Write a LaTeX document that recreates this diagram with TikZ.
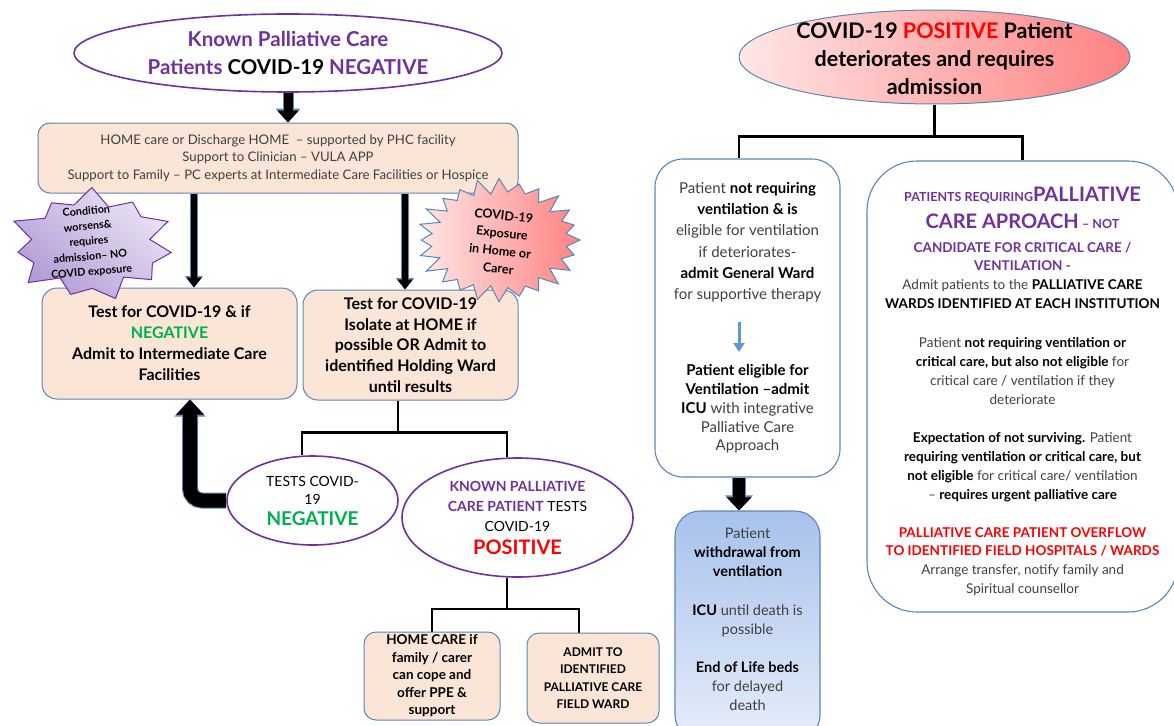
\documentclass[tikz,border=0pt]{standalone}
\usepackage{fontspec}
\setmainfont{Lato}
\usetikzlibrary{shapes.geometric,arrows.meta,calc}
\pgfdeclarelayer{paper}
\pgfdeclarelayer{back}
\pgfsetlayers{paper,back,main}

\definecolor{pcpurple}{HTML}{7030A0}
\definecolor{pcgreen}{HTML}{00B050}
\definecolor{pcred}{HTML}{FF0000}
\definecolor{peach}{HTML}{FBE5D6}
\definecolor{edgeblue}{HTML}{5B86B6}
\definecolor{txtgray}{HTML}{404040}
\definecolor{arrowblue}{HTML}{5B9BD5}
\definecolor{pinklite}{HTML}{FFE6E6}
\definecolor{pinkdeep}{HTML}{FF8282}
\definecolor{skytop}{HTML}{A8C2EC}
\definecolor{skybottom}{HTML}{E6EDF9}
\definecolor{lilaclite}{HTML}{EAE4F4}
\definecolor{lilacdeep}{HTML}{B29BD6}

\newcommand{\bk}[1]{\textbf{\color{black}#1}}

\tikzset{
  peachbox/.style={draw=edgeblue, fill=peach, line width=1pt, rounded corners=12pt, align=center, inner sep=0pt},
  roundbox/.style={draw=edgeblue, line width=1.1pt, align=center, inner sep=0pt},
  oval/.style={ellipse, draw=pcpurple, line width=1.6pt, fill=white, inner sep=0pt},
  txt/.style={align=center, inner sep=0pt},
  bracket/.style={draw=black, line width=2.6pt},
  heavyarrow/.style={draw=black, line width=9pt, -{Triangle[length=12pt,width=21pt]},
    preaction={draw=edgeblue, line width=11pt, -{Triangle[length=14pt,width=24pt]}}},
  shaftarrow/.style={draw=black, line width=6pt, -{Triangle[length=10pt,width=15pt]},
    preaction={draw=edgeblue, line width=7.6pt, -{Triangle[length=11.5pt,width=17.5pt]}}},
  droparrow/.style={draw=black, line width=12pt, -{Triangle[length=13pt,width=24pt]},
    preaction={draw=edgeblue, line width=14pt, -{Triangle[length=15pt,width=27pt]}}},
  returnarrow/.style={draw=black, line width=14pt, rounded corners=12pt, -{Triangle[length=15pt,width=27pt]},
    preaction={draw=edgeblue, line width=16pt, -{Triangle[length=17pt,width=30pt]}}},
  hintarrow/.style={draw=arrowblue, line width=3pt, -{Triangle[length=9pt,width=11pt]}},
}

\begin{document}
\begin{tikzpicture}[x=1pt,y=-1pt]
\useasboundingbox (0,0) rectangle (1174,725);
\begin{pgfonlayer}{paper}
  \fill[white] (0,0) rectangle (1174,725);
\end{pgfonlayer}

% ---------------- left branch: COVID-19 negative patients ----------------
\node[oval, minimum width=428pt, minimum height=78pt] (known) at (288,53) {};
\node[txt, text=pcpurple, font=\bfseries\fontsize{20.5}{28}\selectfont] (knowntext) at (known)
  {Known Palliative Care\\Patients \textcolor{black}{COVID-19} NEGATIVE};

\node[peachbox, minimum width=480pt, minimum height=70pt, text=txtgray,
      font=\fontsize{13.2}{17.5}\selectfont] (home) at (278,158)
  {HOME care or Discharge HOME\ \ – supported by PHC facility\\
   Support to Clinician – VULA APP\\
   Support to Family – PC experts at Intermediate Care Facilities or Hospice};

\node[peachbox, rounded corners=15pt, minimum width=255pt, minimum height=111pt,
      font=\bfseries\fontsize{16}{21}\selectfont] (testneg) at (169.5,343.5)
  {Test for COVID-19 \& if\\\textcolor{pcgreen}{NEGATIVE}\\Admit to Intermediate Care\\Facilities};

\node[peachbox, rounded corners=15pt, minimum width=215pt, minimum height=110pt,
      font=\bfseries\fontsize{16}{20.75}\selectfont] (isolate) at (410.5,345)
  {Test for COVID-19\\Isolate at HOME if\\possible OR Admit to\\identified Holding Ward\\until results};

\node[oval, minimum width=171pt, minimum height=89pt] (neg) at (312.5,500.5) {};
\node[txt, font=\fontsize{14}{18}\selectfont] (negtext) at (neg)
  {TESTS COVID-\\19\\[3pt]{\bfseries\color{pcgreen}\fontsize{19}{18}\selectfont NEGATIVE}};

\node[oval, minimum width=231pt, minimum height=119pt] (pos) at (517.5,517.5) {};
\node[txt, font=\fontsize{14}{20}\selectfont] (postext) at (pos)
  {{\bfseries\color{pcpurple}KNOWN PALLIATIVE}\\
   {\bfseries\color{pcpurple}CARE PATIENT} TESTS\\
   COVID-19\\[3pt]
   {\bfseries\color{pcred}\fontsize{20}{20}\selectfont POSITIVE}};

\node[peachbox, minimum width=136pt, minimum height=88pt,
      font=\bfseries\fontsize{13.5}{17.5}\selectfont] (homecare) at (432,676)
  {HOME CARE if\\family / carer\\can cope and\\offer PPE \&\\support};

\node[peachbox, minimum width=132pt, minimum height=90pt,
      font=\bfseries\fontsize{12}{17.3}\selectfont] (admit) at (593,678)
  {ADMIT TO\\IDENTIFIED\\PALLIATIVE CARE\\FIELD WARD};

% starburst callouts: points alternate between an outer and an inner ellipse
\begin{scope}[shift={(92,245)}]
  \path[draw=pcpurple, line width=1pt, top color=lilaclite, bottom color=lilacdeep, shading angle=-40]
    (8:80 and 54)
    \foreach \k in {1,...,21}{
      -- ({\k*360/22+8}:{(62+18*(1-mod(\k,2)))*(1+0.07*sin(\k*97))} and {(41+13*(1-mod(\k,2)))*(1+0.07*sin(\k*97))})
    } -- cycle;
\end{scope}
\node[txt, rotate=5, font=\bfseries\fontsize{10.8}{15.2}\selectfont] (worsens) at (89,242)
  {Condition\\worsens\&\\requires\\admission– NO\\COVID exposure};

\begin{scope}[shift={(499,240)}]
  \path[draw=edgeblue, line width=1pt, left color=pinklite, right color=pinkdeep]
    (0:81 and 60)
    \foreach \k in {1,...,47}{
      -- ({\k*7.5}:{(66+15*(1-mod(\k,2)))*(1+0.04*sin(\k*131))} and {(48+12*(1-mod(\k,2)))*(1+0.04*sin(\k*131))})
    } -- cycle;
\end{scope}
\node[txt, rotate=-6, font=\bfseries\fontsize{12.5}{17.7}\selectfont] (exposure) at (501,242)
  {COVID-19\\Exposure\\in Home or\\Carer};

% ---------------- right branch: COVID-19 positive admission ----------------
\node[ellipse, draw=edgeblue, line width=1pt, left color=pinklite, right color=pinkdeep,
      minimum width=391pt, minimum height=94pt, inner sep=0pt] (deteriorates) at (934.5,57) {};
\node[txt, font=\bfseries\fontsize{21.5}{28}\selectfont] (detext) at ([yshift=-2pt]deteriorates)
  {COVID-19 \textcolor{pcred}{POSITIVE} Patient\\deteriorates and requires\\admission};

\node[roundbox, fill=white, rounded corners=28pt, minimum width=185pt, minimum height=318pt,
      text=txtgray, font=\fontsize{15}{21.2}\selectfont] (vent) at (747.5,318)
  {Patient \bk{not requiring}\\
   \bk{ventilation \& is}\\
   eligible for ventilation\\
   if deteriorates-\\
   \bk{admit General Ward}\\
   for supportive therapy\\[55pt]
   \bk{Patient eligible for}\\[-2.4pt]
   \bk{Ventilation –admit}\\[-2.4pt]
   \bk{ICU} with integrative\\[-2.4pt]
   Palliative Care\\[-2.4pt]
   Approach};

\node[roundbox, rounded corners=25pt, top color=skytop, bottom color=skybottom,
      minimum width=145pt, minimum height=229pt] (withdraw) at (747.5,625.5) {};
\node[txt, text=txtgray, font=\fontsize{14.5}{19.2}\selectfont] (withdrawtext) at ([yshift=6pt]withdraw.center)
  {Patient\\\bk{withdrawal from}\\\bk{ventilation}\\[19pt]
   \bk{ICU} until death is\\possible\\[19pt]
   \bk{End of Life beds}\\for delayed\\death};

\node[roundbox, fill=white, rounded corners=50pt, minimum width=311pt, minimum height=451pt] (pcward) at (1022.5,386.5) {};
\node[txt, text=txtgray, font=\fontsize{13.5}{19}\selectfont] (pctext) at ([yshift=-5pt]pcward.center)
  {{\bfseries\color{pcpurple}{\fontsize{12.5}{19}\selectfont PATIENTS REQUIRING}{\fontsize{20}{19}\selectfont PALLIATIVE}}\\[8pt]
   {\bfseries\color{pcpurple}{\fontsize{20}{19}\selectfont CARE APROACH} {\fontsize{12.5}{19}\selectfont – NOT}}\\[5pt]
   {\bfseries\color{pcpurple}CANDIDATE FOR CRITICAL CARE /}\\[-1pt]
   {\bfseries\color{pcpurple}VENTILATION -}\\
   Admit patients to the \bk{PALLIATIVE CARE}\\
   \bk{WARDS IDENTIFIED AT EACH INSTITUTION}\\[20pt]
   Patient \bk{not requiring ventilation or}\\
   \bk{critical care, but also not eligible} for\\
   critical care / ventilation if they\\
   deteriorate\\[19pt]
   \bk{Expectation of not surviving.} Patient\\
   \bk{requiring ventilation or critical care, but}\\
   \bk{not eligible} for critical care/ ventilation\\
   – \bk{requires urgent palliative care}\\[19pt]
   {\bfseries\color{pcred}PALLIATIVE CARE PATIENT OVERFLOW}\\[-1pt]
   {\bfseries\color{pcred}TO IDENTIFIED FIELD HOSPITALS / WARDS}\\
   Arrange transfer, notify family and\\
   Spiritual counsellor};

% ---------------- connectors ----------------
\begin{pgfonlayer}{back}
  \coordinate (dropK) at (known.south);
  \draw[heavyarrow] (dropK) -- (dropK |- home.north);
  \coordinate (dropA) at ([xshift=-84pt]home.south);
  \coordinate (dropB) at ([xshift=127pt]home.south);
  \draw[shaftarrow] (dropA) -- (dropA |- testneg.north);
  \draw[shaftarrow] (dropB) -- (dropB |- isolate.north);

  \draw[bracket] ([xshift=-12.5pt]isolate.south) -- ++(0,32) coordinate (forkL);
  \draw[bracket] ([xshift=-10.5pt]neg.north) |- (forkL) -| ([xshift=-10.5pt]pos.north);

  \draw[returnarrow] (neg.west) -| ([xshift=20.5pt]testneg.south);

  \draw[bracket] ([xshift=-10.5pt]pos.south) -- ++(0,31) coordinate (forkP);
  \draw[bracket] (homecare.north) |- (forkP) -| ([xshift=-14pt]admit.north);

  \draw[bracket] (deteriorates.south) -- ++(0,32) coordinate (forkR);
  \draw[bracket] ([xshift=-8.5pt]vent.north) |- (forkR) -| (pcward.north);

  \coordinate (ventdrop) at ([xshift=-8.5pt]vent.south);
  \draw[droparrow] (ventdrop) -- (ventdrop |- withdraw.north);
\end{pgfonlayer}
\draw[hintarrow] ([shift={(-8.5pt,-4pt)}]vent.center) -- ([shift={(-8.5pt,-34pt)}]vent.center);

\end{tikzpicture}
\end{document}
